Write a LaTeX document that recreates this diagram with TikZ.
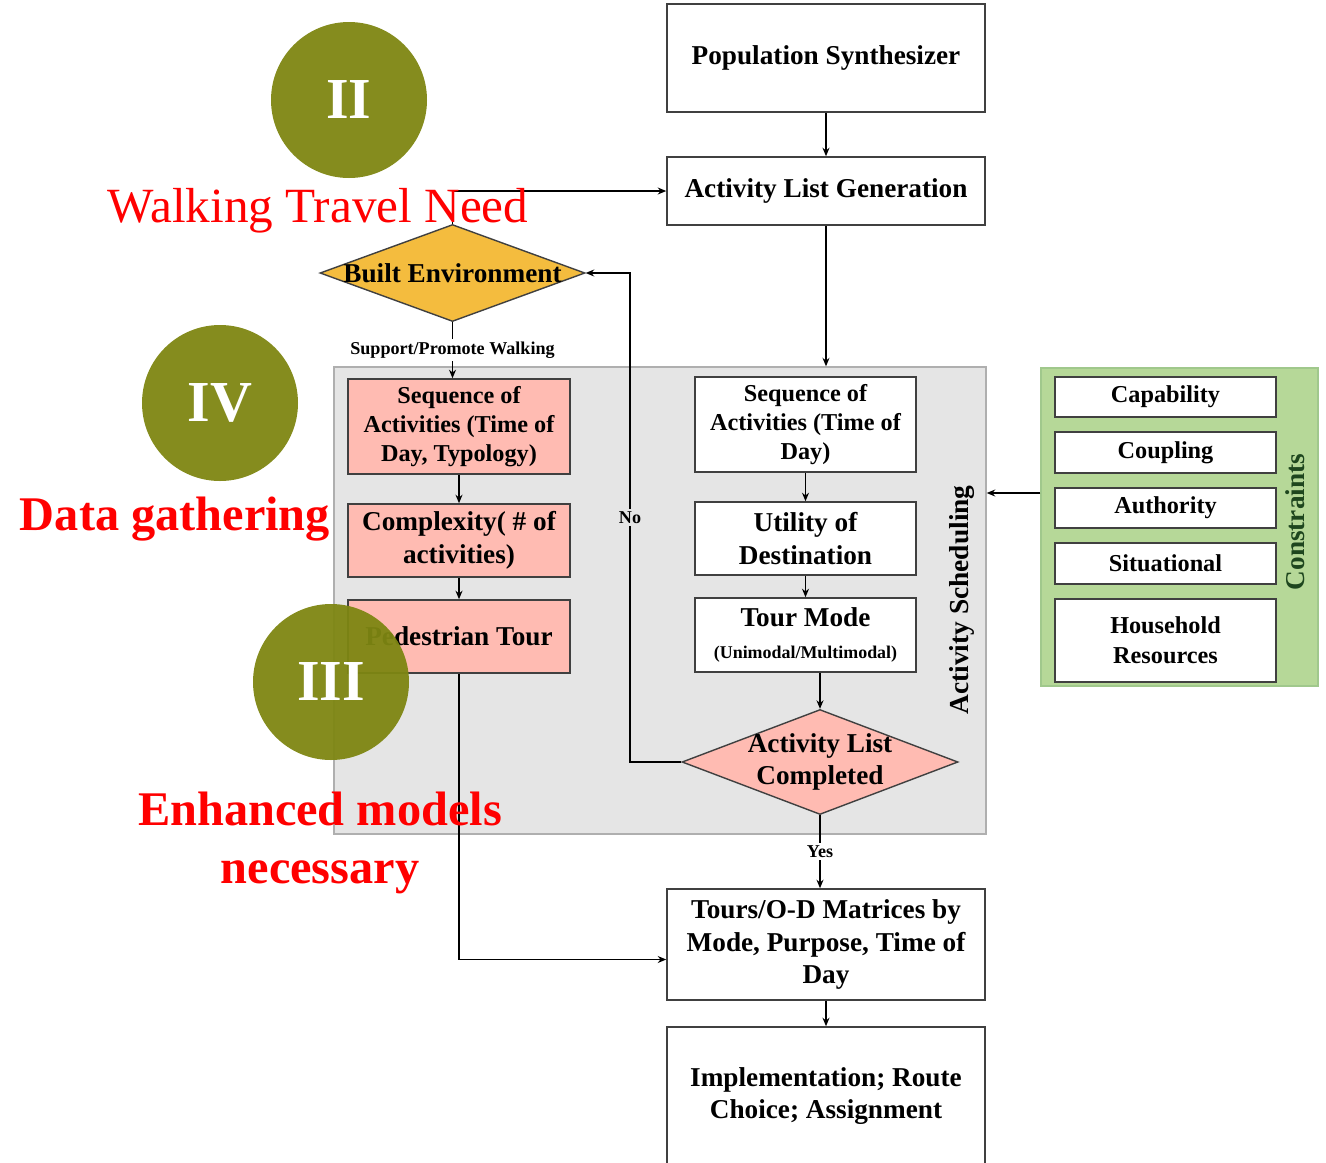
\documentclass[tikz,border=0pt]{standalone}
\usepackage{fontspec}
\setmainfont{Liberation Serif}
\usepackage{tikz}
\usetikzlibrary{arrows.meta,positioning,shapes.geometric}

\definecolor{olive}{RGB}{126,134,18}
\definecolor{pinkfill}{RGB}{255,187,178}
\definecolor{befill}{RGB}{244,188,62}
\definecolor{schedfill}{RGB}{229,229,229}
\definecolor{schedline}{RGB}{175,175,175}
\definecolor{consfill}{RGB}{182,216,152}
\definecolor{consline}{RGB}{160,200,140}
\definecolor{constext}{RGB}{30,70,30}

\begin{document}
\begin{tikzpicture}[
      box/.style={draw=black!75, line width=0.9pt, fill=white, align=center, inner sep=2pt,
      font=\bfseries\fontsize{15.5}{18.5}\selectfont},
      pbox/.style={box, fill=pinkfill},
      small/.style={font=\bfseries\fontsize{13.8}{16.7}\selectfont},
      cbox/.style={box, minimum width=4.42cm, font=\bfseries\fontsize{13.8}{17}\selectfont},
      dec/.style={diamond, draw=black!75, line width=0.8pt, inner sep=0pt},
      lbl/.style={font=\bfseries\fontsize{10.3}{12}\selectfont, fill=white, inner sep=1.5pt},
      stage/.style={circle, fill=olive, fill opacity=0.95, text opacity=1, text=white,
      minimum size=3.12cm, inner sep=0pt, font=\bfseries\fontsize{33}{33}\selectfont},
      note/.style={text=red, align=center, font=\bfseries\fontsize{27.5}{33}\selectfont},
      >={Stealth[length=1.7mm,width=1.4mm]}, line width=0.7pt]
    \useasboundingbox (0,0) rectangle (26.52,-23.26);

    % frames
    \node[draw=schedline, fill=schedfill, line width=0.8pt, minimum width=13.04cm,
      minimum height=9.34cm] (sched) at (13.2,-12.01) {};
    \node[draw=consline, fill=consfill, line width=0.8pt, minimum width=5.54cm,
      minimum height=6.36cm] (cons) at (23.59,-10.54) {};
    \node[rotate=90, font=\bfseries\fontsize{15.6}{18}\selectfont] (schedlbl) at (19.24,-12.0)
      {Activity Scheduling};
    \node[rotate=90, text=constext, font=\bfseries\fontsize{15.5}{18}\selectfont] (conslbl)
      at (25.9,-10.44) {Constraints};

    % main chain
    \node[box, minimum width=6.36cm, minimum height=2.16cm] (ps) at (16.52,-1.16)
      {Population Synthesizer};
    \node[box, minimum width=6.36cm, minimum height=1.36cm] (alg) at (16.52,-3.82)
      {Activity List Generation};
    \node[dec, fill=befill, minimum width=5.3cm, minimum height=1.94cm,
      label={[font=\bfseries\fontsize{15.5}{18.5}\selectfont]center:Built Environment}]
      (be) at (9.05,-5.46) {};

    % walking column
    \node[pbox, small, minimum width=4.44cm, minimum height=1.9cm] (seq1) at (9.18,-8.53)
      {Sequence of\\Activities (Time of\\Day, Typology)};
    \node[pbox, minimum width=4.44cm, minimum height=1.46cm] (cplx) at (9.18,-10.81)
      {Complexity( \# of\\activities)};
    \node[pbox, minimum width=4.44cm, minimum height=1.46cm] (ped) at (9.18,-12.73)
      {Pedestrian Tour};

    % scheduling column
    \node[box, small, minimum width=4.42cm, minimum height=1.9cm] (seq2) at (16.11,-8.49)
      {Sequence of\\Activities (Time of\\Day)};
    \node[box, minimum width=4.42cm, minimum height=1.46cm] (util) at (16.11,-10.77)
      {Utility of\\Destination};
    \node[box, minimum width=4.42cm, minimum height=1.48cm] (mode) at (16.11,-12.70)
      {Tour Mode\\{\fontsize{10.2}{11}\selectfont(Unimodal/Multimodal)}};
    \node[dec, fill=pinkfill, minimum width=5.52cm, minimum height=2.1cm,
      label={[align=center, font=\bfseries\fontsize{15.5}{18.5}\selectfont]center:Activity List\\Completed}]
      (alc) at (16.4,-15.24) {};

    \node[box, minimum width=6.36cm, minimum height=2.22cm] (tours) at (16.52,-18.89)
      {Tours/O-D Matrices by\\Mode, Purpose, Time of\\Day};
    \node[box, minimum width=6.36cm, minimum height=2.76cm] (impl) at (16.52,-21.92)
      {Implementation; Route\\Choice; Assignment};

    % constraints
    \node[cbox, minimum height=0.8cm] (cap) at (23.31,-7.94) {Capability};
    \node[cbox, minimum height=0.82cm] (coup) at (23.31,-9.05) {Coupling};
    \node[cbox, minimum height=0.8cm] (auth) at (23.31,-10.16) {Authority};
    \node[cbox, minimum height=0.82cm] (sit) at (23.31,-11.27) {Situational};
    \node[cbox, minimum height=1.66cm] (hh) at (23.31,-12.81) {Household\\Resources};

    % connectors
    \draw[->] (ps) -- (alg);
    \draw[->] (alg) -- (alg |- sched.north);
    \draw[->] (be.north) |- (alg.west);
    \draw[->] (be.south) -- node[lbl] {Support/Promote Walking} (be.south |- seq1.north);
    \draw[->] (seq1) -- (cplx);
    \draw[->] (cplx) -- (ped);
    \draw[->] (seq2) -- (util);
    \draw[->] (util) -- (mode);
    \draw[->] (alc.north |- mode.south) -- (alc.north);
    \draw[->] (alc.west) -| node[lbl, fill=schedfill, pos=0.75] {No} (12.6,-5.46) -- (be.east);
    \draw[->] (alc.south) -- node[lbl] {Yes} (alc.south |- tours.north);
    \draw[->] (ped.south) |- ([yshift=-0.3cm]tours.west);
    \draw[->] (tours) -- (impl);
    \draw[->] (cons.west |- 0,-9.86) -- (sched.east |- 0,-9.86);

    % stages and notes
    \node[stage] (s2) at (6.98,-2.0) {II};
    \node[stage] (s4) at (4.4,-8.06) {IV};
    \node[stage] (s3) at (6.62,-13.64) {III};
    \node[note, font=\fontsize{28}{33}\selectfont] (need) at (6.36,-4.22) {Walking Travel Need};
    \node[note] (gather) at (3.5,-10.38) {Data gathering};
    \node[note] (enh) at (6.4,-16.86) {Enhanced models\\necessary};
  \end{tikzpicture}
\end{document}
